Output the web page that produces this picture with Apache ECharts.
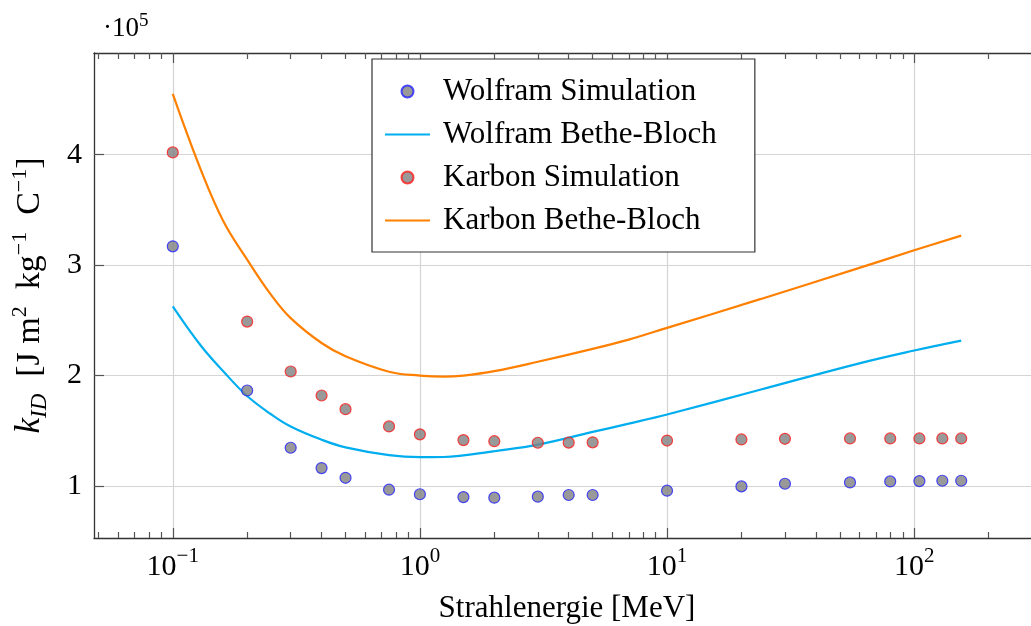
<!DOCTYPE html>
<html lang="de">
<head>
<meta charset="UTF-8">
<title>k_ID Strahlenergie</title>
<script src="https://cdn.jsdelivr.net/npm/echarts@6/dist/echarts.min.js"></script>
<style>
  html, body { margin: 0; padding: 0; background: #fff; }
  #main { width: 1031px; height: 626px; }
</style>
</head>
<body>
<div id="main"></div>
<script>
  // Werte in Einheiten von 10^5 J m^2 kg^-1 C^-1
  var simEnergy = [0.1, 0.2, 0.3, 0.4, 0.5, 0.75, 1, 1.5, 2, 3, 4, 5, 10, 20, 30, 55, 80, 105, 130, 155];
  var wolframSim = [3.17, 1.865, 1.347, 1.163, 1.075, 0.967, 0.926, 0.90, 0.895, 0.904, 0.919, 0.919, 0.958, 0.997, 1.021, 1.033, 1.042, 1.045, 1.048, 1.048];
  var karbonSim = [4.02, 2.489, 2.037, 1.82, 1.696, 1.54, 1.468, 1.416, 1.406, 1.392, 1.393, 1.396, 1.412, 1.422, 1.428, 1.431, 1.431, 1.431, 1.431, 1.431];

  var bbEnergy = [0.1, 0.13, 0.16, 0.2, 0.25, 0.3, 0.4, 0.5, 0.75, 1, 1.25, 1.5, 2, 3, 5, 7, 10, 24, 60, 100, 155];
  var wolframBB = [2.627, 2.27, 2.04, 1.815, 1.65, 1.54, 1.42, 1.35, 1.28, 1.262, 1.263, 1.278, 1.315, 1.375, 1.49, 1.565, 1.648, 1.874, 2.111, 2.227, 2.317];
  var karbonBB = [4.55, 3.86, 3.40, 3.05, 2.73, 2.52, 2.295, 2.175, 2.035, 2.00, 1.99, 2.00, 2.04, 2.125, 2.242, 2.326, 2.432, 2.694, 2.975, 3.134, 3.267];

  var xMajor = [0.1, 1, 10, 100];
  var xMinor = [0.05, 0.06, 0.07, 0.08, 0.09, 0.2, 0.3, 0.4, 0.5, 0.6, 0.7, 0.8, 0.9,
                2, 3, 4, 5, 6, 7, 8, 9, 20, 30, 40, 50, 60, 70, 80, 90, 200, 300];
  var yTicks = [1, 2, 3, 4];

  var xMin = 0.048, xMax = 323;
  var yMin = 0.53, yMax = 4.92;

  function pairs(xs, ys) {
    return xs.map(function (x, i) { return [x, ys[i]]; });
  }

  var font = '"Liberation Serif", "DejaVu Serif", serif';
  var supRich = {
    sup: { fontFamily: font, fontSize: 21, lineHeight: 20, verticalAlign: 'top', color: '#000' }
  };
  var lineCol = '#333';
  var tickCol = '#555';
  var gridCol = '#d4d4d4';

  function tickAxis(pos, values, len) {
    return {
      type: 'log', position: pos, min: xMin, max: xMax,
      axisLine: { show: pos === 'top' && len > 8, lineStyle: { color: lineCol, width: 1.3 } },
      axisTick: { show: true, inside: true, length: len, customValues: values, lineStyle: { color: tickCol, width: 1.2 } },
      axisLabel: { show: false },
      splitLine: { show: false }
    };
  }

  var myChart = echarts.init(document.getElementById('main'));

  var option = {
    animation: false,
    grid: { left: 94, top: 53, width: 946, height: 485, containLabel: false, outerBoundsMode: 'none' },
    legend: {
      orient: 'vertical',
      left: 372, top: 59,
      padding: [17, 38, 16, 12],
      itemGap: 12,
      itemWidth: 45,
      itemHeight: 12,
      backgroundColor: '#fff',
      borderColor: '#333',
      borderWidth: 1.2,
      textStyle: { fontFamily: font, fontSize: 31, lineHeight: 30, color: '#000', padding: [0, 0, 0, 8] },
      data: [
        'Wolfram Simulation',
        { name: 'Wolfram Bethe-Bloch', itemStyle: { opacity: 0 } },
        'Karbon Simulation',
        { name: 'Karbon Bethe-Bloch', itemStyle: { opacity: 0 } }
      ]
    },
    graphic: [{
      type: 'text', x: 103, y: 12,
      style: {
        text: '·10{sup|5}',
        fontFamily: font, fontSize: 27, lineHeight: 34, fill: '#000',
        rich: { sup: { fontFamily: font, fontSize: 19, lineHeight: 16, verticalAlign: 'top', fill: '#000' } }
      }
    }],
    xAxis: [{
      type: 'log', position: 'bottom', min: xMin, max: xMax,
      name: 'Strahlenergie [MeV]', nameLocation: 'middle', nameGap: 55,
      nameTextStyle: { fontFamily: font, fontSize: 31, color: '#000' },
      axisLine: { show: true, onZero: false, lineStyle: { color: lineCol, width: 1.3 } },
      axisTick: { show: true, inside: true, length: 10, customValues: xMajor, lineStyle: { color: tickCol, width: 1.2 } },
      axisLabel: {
        customValues: xMajor, margin: 8,
        fontFamily: font, fontSize: 30, lineHeight: 42, color: '#000', rich: supRich,
        formatter: function (v) {
          var e = Math.round(Math.log10(v));
          return '10{sup|' + (e < 0 ? '−' + (-e) : e) + '}';
        }
      },
      splitLine: { show: true, lineStyle: { color: gridCol, width: 1.2 } }
    },
      tickAxis('bottom', xMinor, 6),
      tickAxis('top', xMajor, 10),
      tickAxis('top', xMinor, 6)
    ],
    yAxis: [{
      type: 'value', min: yMin, max: yMax,
      name: '{it|k}{sub|ID}  [J m{sup|2}  kg{sup|−1}  C{sup|−1}]',
      nameLocation: 'middle', nameGap: 43, nameRotate: 90,
      nameTextStyle: {
        fontFamily: font, fontSize: 34, lineHeight: 42, color: '#000',
        rich: {
          it: { fontFamily: font, fontSize: 35, fontStyle: 'italic', lineHeight: 42, color: '#000' },
          sub: { fontFamily: font, fontSize: 23, fontStyle: 'italic', lineHeight: 30, verticalAlign: 'bottom', color: '#000' },
          sup: { fontFamily: font, fontSize: 22, lineHeight: 22, verticalAlign: 'top', color: '#000' }
        }
      },
      axisLine: { show: true, lineStyle: { color: lineCol, width: 1.3 } },
      axisTick: { show: true, inside: true, length: 10, customValues: yTicks, lineStyle: { color: tickCol, width: 1.2 } },
      axisLabel: { customValues: yTicks, margin: 12, fontFamily: font, fontSize: 30, color: '#000' },
      splitLine: { show: true, lineStyle: { color: gridCol, width: 1.2 } }
    }],
    series: [{
      name: 'Wolfram Simulation', type: 'scatter', xAxisIndex: 0,
      symbol: 'circle', symbolSize: 11,
      itemStyle: { color: '#808080', borderColor: '#2222ff', borderWidth: 1.2 },
      data: pairs(simEnergy, wolframSim), z: 4
    }, {
      name: 'Wolfram Bethe-Bloch', type: 'line', xAxisIndex: 0,
      symbol: 'none', smooth: 0.4,
      lineStyle: { color: '#00aeef', width: 2.2 }, itemStyle: { color: '#00aeef' },
      data: pairs(bbEnergy, wolframBB), z: 3
    }, {
      name: 'Karbon Simulation', type: 'scatter', xAxisIndex: 0,
      symbol: 'circle', symbolSize: 11,
      itemStyle: { color: '#808080', borderColor: '#ff1a1a', borderWidth: 1.2 },
      data: pairs(simEnergy, karbonSim), z: 4
    }, {
      name: 'Karbon Bethe-Bloch', type: 'line', xAxisIndex: 0,
      symbol: 'none', smooth: 0.4,
      lineStyle: { color: '#ff8000', width: 2.2 }, itemStyle: { color: '#ff8000' },
      data: pairs(bbEnergy, karbonBB), z: 3
    }]
  };

  myChart.setOption(option);

  window.onresize = function () {
    myChart.resize();
  };
</script>
</body>
</html>
